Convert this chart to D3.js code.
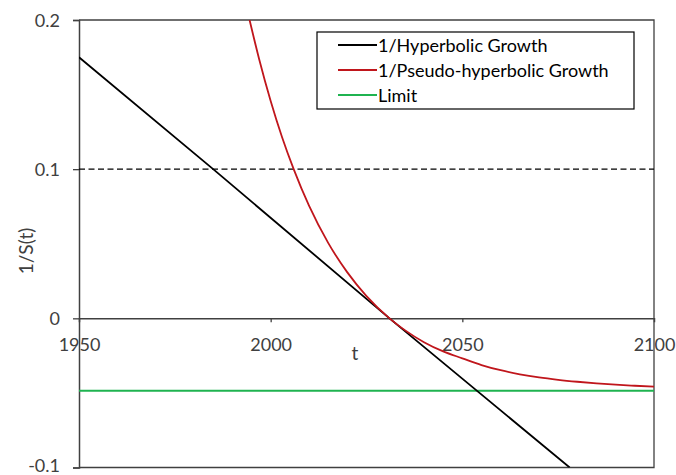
<!DOCTYPE html>
<html>
<head>
<meta charset="utf-8">
<script src="https://cdn.jsdelivr.net/npm/d3@7"></script>
<style>
  html, body { margin: 0; padding: 0; background: #fff; }
  svg { display: block; }
  text { font-family: Lato, "Open Sans", sans-serif; fill: #404040; }
</style>
</head>
<body>
<svg id="chart" width="676" height="475"></svg>
<script>
// ---- data ----
const xTicks = [1950, 2000, 2050, 2100];
const yTicks = [-0.1, 0, 0.1, 0.2];
const yTickLabels = ["-0.1", "0", "0.1", "0.2"];
const seriesNames = ["1/Hyperbolic Growth", "1/Pseudo-hyperbolic Growth", "Limit"];
const seriesColors = ["#000000", "#c0161c", "#1fb350"];

const hyperbolicYears = [1950, 1985, 2031, 2054, 2078];
const hyperbolicValues = [0.175, 0.100, 0.000, -0.049, -0.100];

const pseudoYears = [1994.5, 1997, 2000, 2003, 2006, 2010, 2015, 2020, 2025, 2031, 2035, 2040, 2045, 2050, 2055, 2060, 2065, 2070, 2075, 2080, 2085, 2090, 2095, 2100];
const pseudoValues = [0.200, 0.1737, 0.1457, 0.1212, 0.1000, 0.0755, 0.0506, 0.0308, 0.0149, 0.000, -0.0079, -0.0160, -0.0222, -0.0268, -0.0313, -0.0348, -0.0375, -0.0396, -0.0412, -0.0425, -0.0436, -0.0445, -0.0452, -0.0458];

const limitYears = [1950, 2100];
const limitValues = [-0.0485, -0.0485];

const thresholdYears = [1950, 2100];
const thresholdValues = [0.1, 0.1];

// ---- layout ----
const svg = d3.select("#chart");
const mLeft = 79, mRight = 654, mTop = 20, mBottom = 467.5;
const x = d3.scaleLinear().domain([1950, 2100]).range([mLeft, mRight]);
const y = d3.scaleLinear().domain([-0.1, 0.2]).range([mBottom, mTop]);

const axisColor = "#404040";
const fs = 18;

// plot frame (top and right)
svg.append("path")
  .attr("d", `M${mLeft},${mTop}H${mRight}V${mBottom}H${mLeft}`)
  .attr("fill", "none").attr("stroke", axisColor).attr("stroke-width", 1.3);

// y axis
const yAxis = d3.axisLeft(y).tickValues(yTicks)
  .tickFormat((d, i) => yTickLabels[i]).tickSize(6).tickPadding(13);
const gy = svg.append("g").attr("transform", `translate(${mLeft},0)`).call(yAxis);
gy.select(".domain").attr("stroke", axisColor).attr("stroke-width", 1.5);
gy.selectAll(".tick line").attr("stroke", axisColor).attr("stroke-width", 1.3);
gy.selectAll(".tick text").attr("font-size", fs).attr("font-family", "Lato, sans-serif").attr("fill", "#404040")
  .attr("dy", null).attr("dominant-baseline", "alphabetic")
  .attr("y", d => d === -0.1 ? 3.5 : 6.5);

// x axis at y = 0
const xAxis = d3.axisBottom(x).tickValues(xTicks).tickFormat(d3.format("d")).tickSize(4).tickPadding(0);
const gx = svg.append("g").attr("transform", `translate(0,${y(0)})`).call(xAxis);
gx.select(".domain").attr("stroke", axisColor).attr("stroke-width", 1.5);
gx.selectAll(".tick line").attr("stroke", axisColor).attr("stroke-width", 1.3)
  .attr("display", d => (d === 1950 || d === 2100) ? "none" : null);
gx.selectAll(".tick text").attr("font-size", fs).attr("font-family", "Lato, sans-serif").attr("fill", "#404040")
  .attr("dy", null).attr("y", 26).attr("dominant-baseline", "central");

// axis titles
svg.append("text").attr("x", 355).attr("y", 352)
  .attr("text-anchor", "middle").attr("dominant-baseline", "central")
  .attr("font-size", 19).text("t");
svg.append("text").attr("transform", "translate(25,251) rotate(-90)")
  .attr("text-anchor", "middle").attr("dominant-baseline", "central")
  .attr("font-size", 19).text("1/S(t)");

// series
const line = d3.line().x(d => x(d[0])).y(d => y(d[1]));
svg.append("clipPath").attr("id", "clip")
  .append("rect").attr("x", mLeft).attr("y", mTop).attr("width", mRight - mLeft).attr("height", mBottom - mTop);

const plot = svg.append("g").attr("clip-path", "url(#clip)");

plot.append("path").datum(d3.zip(thresholdYears, thresholdValues))
  .attr("d", line).attr("fill", "none").attr("stroke", "#000").attr("stroke-width", 1.3)
  .attr("stroke-dasharray", "6,3.5");

plot.append("path").datum(d3.zip(limitYears, limitValues))
  .attr("d", line).attr("fill", "none").attr("stroke", seriesColors[2]).attr("stroke-width", 2);

plot.append("path").datum(d3.zip(hyperbolicYears, hyperbolicValues))
  .attr("d", line).attr("fill", "none").attr("stroke", seriesColors[0]).attr("stroke-width", 1.8);

const curve = d3.line().x(d => x(d[0])).y(d => y(d[1])).curve(d3.curveMonotoneX);
plot.append("path").datum(d3.zip(pseudoYears, pseudoValues))
  .attr("d", curve).attr("fill", "none").attr("stroke", seriesColors[1]).attr("stroke-width", 1.8);

// legend
const lg = svg.append("g");
lg.append("rect").attr("x", 317).attr("y", 32).attr("width", 317).attr("height", 77)
  .attr("fill", "#fff").attr("stroke", "#000").attr("stroke-width", 1.2);
const rowY = [45, 70, 95];
seriesNames.forEach((name, i) => {
  lg.append("line").attr("x1", 338).attr("x2", 377).attr("y1", rowY[i]).attr("y2", rowY[i])
    .attr("stroke", seriesColors[i]).attr("stroke-width", 2);
  lg.append("text").attr("x", 378).attr("y", rowY[i]).attr("dominant-baseline", "central")
    .attr("font-size", fs).style("fill", "#000").text(name);
});
</script>
</body>
</html>
